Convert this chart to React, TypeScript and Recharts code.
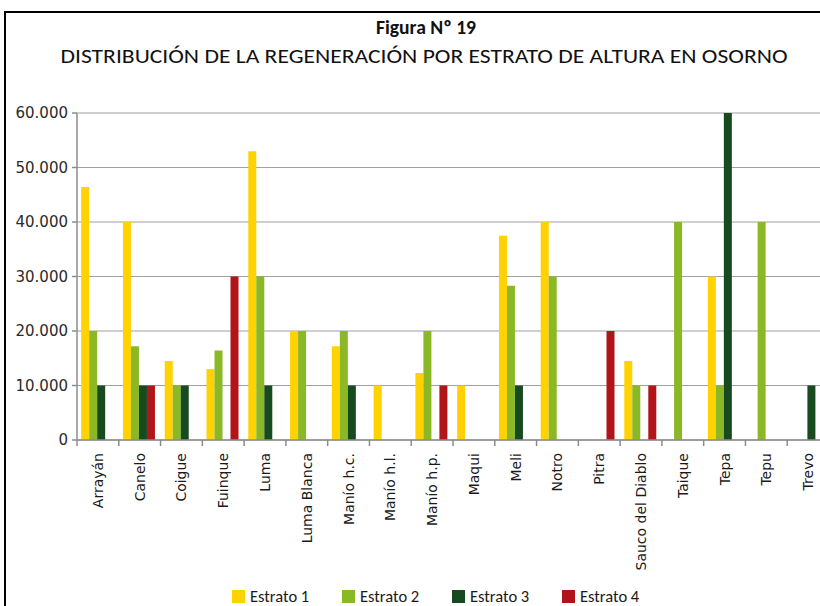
import { BarChart, Bar, XAxis, YAxis, CartesianGrid, Legend } from 'recharts';

const especies = [
  'Arrayán', 'Canelo', 'Coigue', 'Fuinque', 'Luma', 'Luma Blanca', 'Manío h.c.', 'Manío h.l.', 'Manío h.p.',
  'Maqui', 'Meli', 'Notro', 'Pitra', 'Sauco del Diablo', 'Taique', 'Tepa', 'Tepu', 'Trevo',
];

const estrato1 = [46400, 40000, 14500, 13000, 53000, 20000, 17200, 10000, 12300, 10000, 37500, 40000, 0, 14500, 0, 30000, 0, 0];
const estrato2 = [20000, 17200, 10000, 16400, 30000, 20000, 20000, 0, 20000, 0, 28300, 30000, 0, 10000, 40000, 10000, 40000, 0];
const estrato3 = [10000, 10000, 10000, 0, 10000, 0, 10000, 0, 0, 0, 10000, 0, 0, 0, 0, 60000, 0, 10000];
const estrato4 = [0, 10000, 0, 30000, 0, 0, 0, 0, 10000, 0, 0, 0, 20000, 10000, 0, 0, 0, 0];

const yTicks = [0, 10000, 20000, 30000, 40000, 50000, 60000];

const series = [
  { key: 'e1', name: 'Estrato 1', color: '#FFD200' },
  { key: 'e2', name: 'Estrato 2', color: '#8BB925' },
  { key: 'e3', name: 'Estrato 3', color: '#174A1F' },
  { key: 'e4', name: 'Estrato 4', color: '#B11419' },
];

const data = especies.map((name, i) => ({
  name,
  e1: estrato1[i],
  e2: estrato2[i],
  e3: estrato3[i],
  e4: estrato4[i],
}));

const CHART_W = 860;
const CHART_H = 606;
const MARGIN = { top: 113, right: 31, left: 0, bottom: 0 };
const Y_W = 77;
const BAND = (CHART_W - MARGIN.left - MARGIN.right - Y_W) / especies.length;

const fmt = (v: number) => String(v).replace(/\B(?=(\d{3})+(?!\d))/g, '.');

const AXIS = '#8c8c8c';
const TITLE_FONT = "Carlito, 'Open Sans', sans-serif";
const LABEL_FONT = "'DejaVu Sans', Verdana, sans-serif";

// category labels rotated; the small tick marks sit between categories
const CategoryTick = ({ x, y, payload }: any) => {
  const bx = x - BAND / 2;
  return (
    <g>
      <line x1={bx} y1={y - 6} x2={bx} y2={y} stroke={AXIS} strokeWidth={1.5} />
      <text
        x={x}
        y={y + 7}
        transform={`rotate(-90, ${x}, ${y + 7})`}
        textAnchor="end"
        dy="0.36em"
        fontSize={14}
        fontFamily={LABEL_FONT}
        fill="#1a1a1a"
      >
        {payload.value}
      </text>
    </g>
  );
};

const LegendContent = () => (
  <div style={{ display: 'flex', paddingLeft: 232, fontFamily: TITLE_FONT, fontSize: 16.5, lineHeight: '18px', color: '#1a1a1a' }}>
    {series.map((s) => (
      <div key={s.key} style={{ display: 'flex', alignItems: 'center', width: 110 }}>
        <span style={{ display: 'inline-block', width: 13, height: 13, background: s.color, marginRight: 5 }} />
        <span>{s.name}</span>
      </div>
    ))}
  </div>
);

export default function App() {
  return (
    <div style={{ position: 'fixed', left: 0, top: 0, width: 820, height: 606, overflow: 'hidden', background: '#fff' }}>
      <div
        style={{
          position: 'absolute',
          left: 4,
          top: 11,
          width: 900,
          height: 700,
          border: '2px solid #000',
          boxSizing: 'border-box',
        }}
      />
      <svg width={820} height={80} style={{ position: 'absolute', left: 0, top: 0 }}>
        <text x={426} y={34} textAnchor="middle" fontFamily={TITLE_FONT} fontWeight="bold" fontSize={20} fill="#111"
          textLength={100} lengthAdjust="spacingAndGlyphs">
          Figura Nº 19
        </text>
        <text x={424} y={63} textAnchor="middle" fontFamily={TITLE_FONT} fontSize={20} fill="#111"
          textLength={727} lengthAdjust="spacingAndGlyphs">
          DISTRIBUCIÓN DE LA REGENERACIÓN POR ESTRATO DE ALTURA EN OSORNO
        </text>
      </svg>
      <div style={{ position: 'absolute', left: 0, top: 0 }}>
        <BarChart width={CHART_W} height={CHART_H} data={data} margin={MARGIN} barCategoryGap="10%" barGap={0}>
          <CartesianGrid vertical={false} stroke="#a0a0a0" strokeWidth={1.2} />
          <XAxis
            dataKey="name"
            interval={0}
            height={144}
            axisLine={{ stroke: AXIS, strokeWidth: 1.5 }}
            tickLine={false}
            tickSize={6}
            tickMargin={0}
            tick={<CategoryTick />}
          />
          <YAxis
            width={Y_W}
            domain={[0, 60000]}
            ticks={yTicks}
            interval={0}
            tickFormatter={fmt}
            axisLine={{ stroke: AXIS, strokeWidth: 1.5 }}
            tickLine={{ stroke: AXIS, strokeWidth: 1.5 }}
            tickSize={5}
            tickMargin={4}
            tick={{ fontSize: 15, fontFamily: LABEL_FONT, fill: '#2a2a2a' }}
          />
          <Legend
            verticalAlign="bottom"
            height={22}
            content={<LegendContent />}
            wrapperStyle={{ top: 587, left: 0, width: 820 }}
          />
          {series.map((s) => (
            <Bar key={s.key} dataKey={s.key} name={s.name} fill={s.color} isAnimationActive={false} />
          ))}
        </BarChart>
      </div>
    </div>
  );
}
